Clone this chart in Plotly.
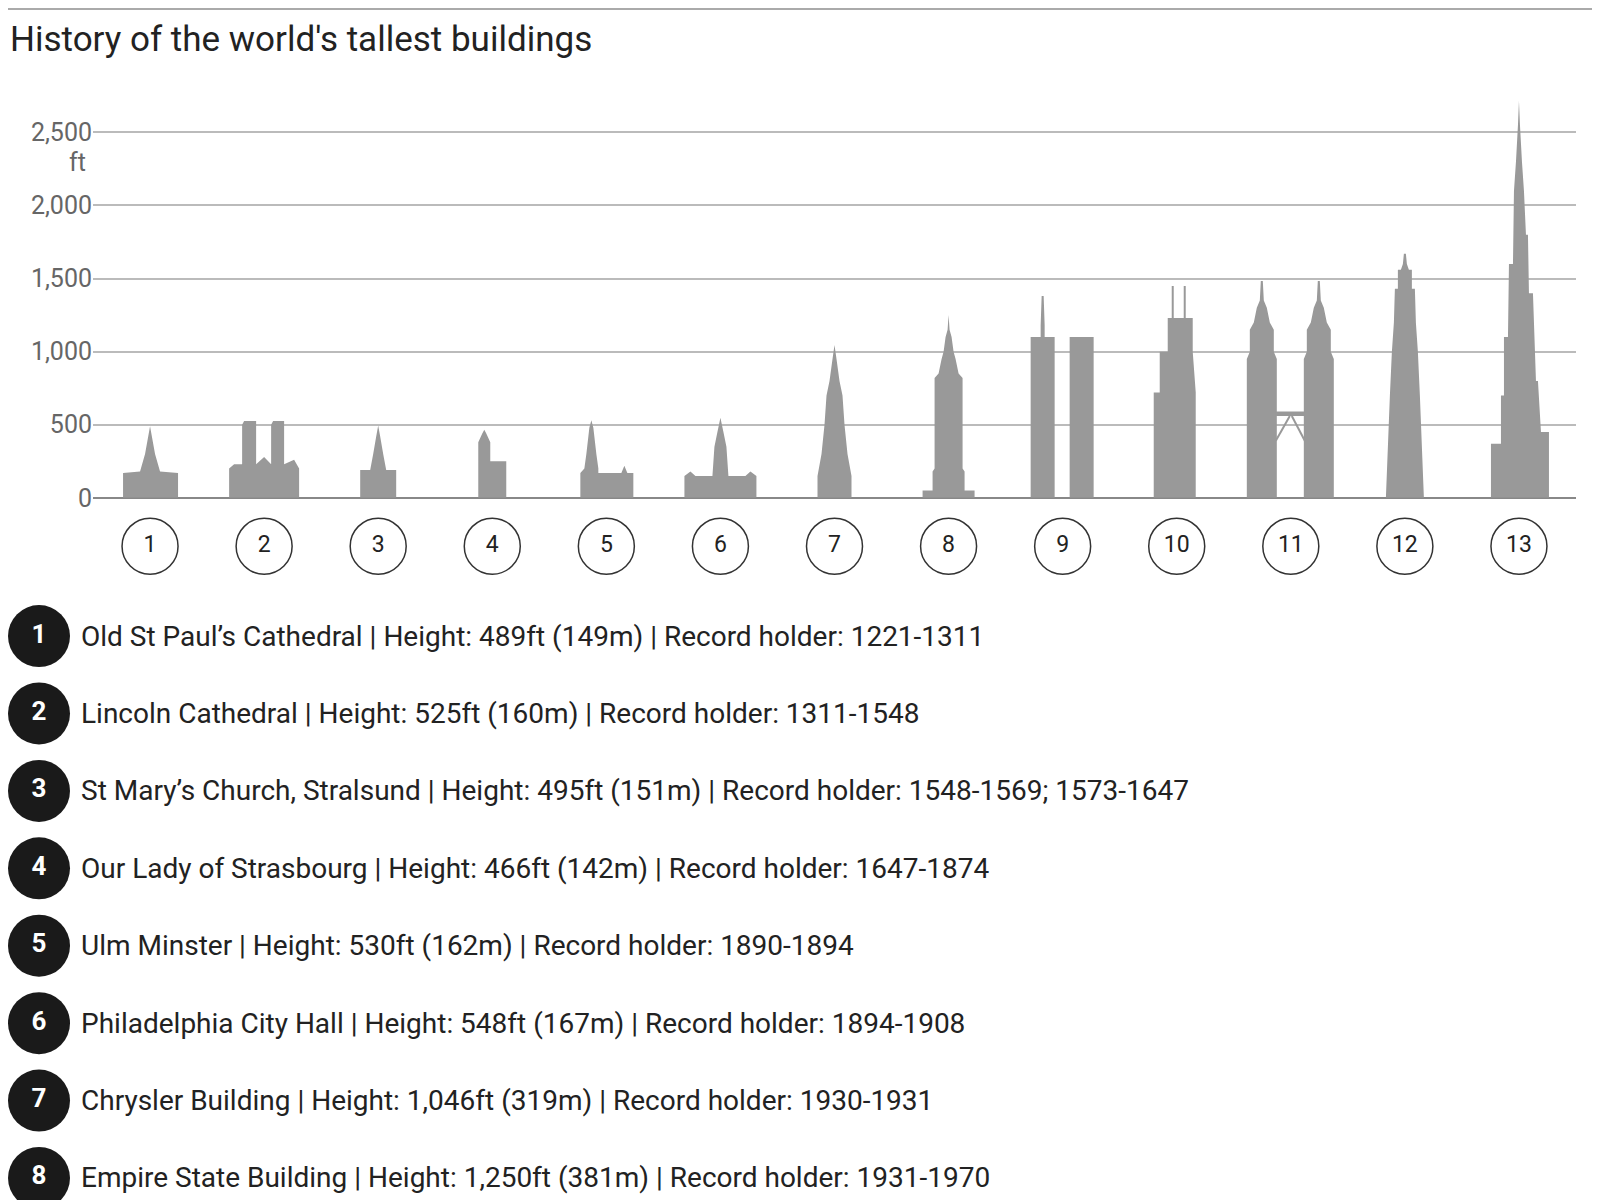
import plotly.graph_objects as go

# building silhouettes: x offset from slot centre (px at chart scale), height (ft)
profiles = {
    1: ([-27, -27, -10, -5, 0, 5, 10, 28, 28], [0, 170, 180, 300, 489, 300, 180, 170, 0]),
    2: ([-35, -35, -30, -22, -22, -20, -8, -8, 0, 7, 7, 9, 20, 20, 30, 35, 35],
        [0, 200, 230, 230, 500, 525, 525, 230, 280, 230, 500, 525, 525, 230, 260, 200, 0]),
    3: ([-18, -18, -8, -5, -2, 0, 2, 5, 8, 18, 18], [0, 190, 190, 300, 420, 495, 420, 300, 190, 190, 0]),
    4: ([-14, -14, -10, -8, -6, -2, -2, 14, 14], [0, 380, 440, 466, 440, 380, 250, 250, 0]),
    5: ([-26, -26, -22, -20, -17, -15, -13, -10, -8, -8, 15, 18, 21, 27, 27],
        [0, 170, 200, 300, 480, 530, 480, 300, 200, 170, 170, 220, 170, 170, 0]),
    6: ([-36, -36, -30, -25, -8, -6, -3, 0, 3, 6, 8, 25, 30, 36, 36],
        [0, 150, 180, 150, 150, 350, 450, 548, 450, 350, 150, 150, 180, 150, 0]),
    7: ([-17, -17, -13, -10, -8, -5, -2, 0, 2, 5, 8, 10, 13, 17, 17],
        [0, 150, 300, 500, 700, 800, 950, 1046, 950, 800, 700, 500, 300, 150, 0]),
    8: ([-26, -26, -16, -16, -14, -14, -10, -7, -5, -3, -1, 0, 1, 3, 5, 7, 10, 14, 14, 16, 16, 26, 26],
        [0, 50, 50, 180, 200, 820, 850, 950, 1000, 1100, 1150, 1250, 1150, 1100, 1000, 950, 850, 820, 200, 180, 50, 50, 0]),
    9: ([-32, -32, -22, -22, -21, -19, -18, -18, -8, -8, None, 7, 7, 31, 31],
        [0, 1100, 1100, 1180, 1380, 1380, 1180, 1100, 1100, 0, None, 0, 1100, 1100, 0]),
    10: ([-23, -23, -17, -17, -9, -9, -5, -5, -3, -3, 7, 7, 9, 9, 16, 16, 19, 19],
         [0, 720, 720, 1000, 1000, 1230, 1230, 1450, 1450, 1230, 1230, 1450, 1450, 1230, 1230, 1000, 720, 0]),
    12: ([-19, -15, -13, -11, -10, -7, -7, -4, -2, -1, 1, 2, 4, 7, 7, 10, 11, 13, 15, 19],
         [0, 700, 1000, 1200, 1430, 1430, 1560, 1560, 1600, 1670, 1670, 1600, 1560, 1560, 1430, 1430, 1200, 1000, 700, 0]),
    13: ([-28, -28, -18, -18, -15, -15, -11, -10, -6, -5, -3, -1, 0, 1, 3, 5, 7, 9, 10, 14, 17, 19, 22, 30, 30],
         [0, 370, 370, 700, 700, 1100, 1100, 1600, 1600, 2100, 2300, 2550, 2717, 2550, 2300, 2100, 1800, 1800,
          1400, 1400, 800, 800, 450, 450, 0]),
}
# Petronas twin towers
tower_dx = [-15, -15, -12, -12, -8, -5, -2, -1, 1, 2, 5, 8, 12, 12, 15, 15]
tower_h = [0, 950, 1000, 1150, 1200, 1300, 1350, 1483, 1483, 1350, 1300, 1200, 1150, 1000, 950, 0]
petronas_centres = [-29, 28]
bridge_dx = [-15, 14, 14, -15]
bridge_h = [560, 560, 590, 590]
legs_dx = [-15, -1, 1, 14]
legs_h = [390, 560, 560, 390]

names = ["Old St Paul’s Cathedral", "Lincoln Cathedral", "St Mary’s Church, Stralsund",
         "Our Lady of Strasbourg", "Ulm Minster", "Philadelphia City Hall", "Chrysler Building",
         "Empire State Building"]
heights = ["489ft (149m)", "525ft (160m)", "495ft (151m)", "466ft (142m)", "530ft (162m)",
           "548ft (167m)", "1,046ft (319m)", "1,250ft (381m)"]
records = ["1221-1311", "1311-1548", "1548-1569; 1573-1647", "1647-1874", "1890-1894",
           "1894-1908", "1930-1931", "1931-1970"]

SLOT = 114.08
GREY = "#999999"
FONT = "Roboto"
fig = go.Figure()

def add_shape(xs, ys, mode="none", **kw):
    fig.add_trace(go.Scatter(x=xs, y=ys, mode=mode, fill="toself" if mode == "none" else None,
                             fillcolor=GREY, hoverinfo="skip", showlegend=False, **kw))

for i, (dx, h) in profiles.items():
    add_shape([None if d is None else i + d / SLOT for d in dx], h)
for c in petronas_centres:
    add_shape([11 + (c + d) / SLOT for d in tower_dx], tower_h)
add_shape([11 + d / SLOT for d in bridge_dx], bridge_h)
add_shape([11 + legs_dx[0] / SLOT, 11 + legs_dx[1] / SLOT, None, 11 + legs_dx[2] / SLOT, 11 + legs_dx[3] / SLOT],
          [legs_h[0], legs_h[1], None, legs_h[2], legs_h[3]], mode="lines", line=dict(color=GREY, width=2))

# numbered circles under the buildings
nums = list(range(1, 14))
fig.add_trace(go.Scatter(x=nums, y=[545] * 13, xaxis="x3", yaxis="y2", mode="markers+text",
                         text=[str(n) for n in nums], textposition="middle center",
                         textfont=dict(size=23, color="#222", family=FONT),
                         marker=dict(size=56, color="white", line=dict(color="#333", width=1.5)),
                         cliponaxis=False, showlegend=False, hoverinfo="skip"))

# list below
rows = list(range(1, len(names) + 1))
row_y = [636 + 78.4 * (r - 1) for r in rows]
fig.add_trace(go.Scatter(x=[31] * len(rows), y=row_y, xaxis="x2", yaxis="y2", mode="markers+text",
                         text=[f"<b>{r}</b>" for r in rows], textposition="middle center",
                         textfont=dict(size=26, color="white", family=FONT),
                         marker=dict(size=62, color="#1a1a1a"),
                         cliponaxis=False, showlegend=False, hoverinfo="skip"))
for r, y, n, h, rec in zip(rows, row_y, names, heights, records):
    fig.add_annotation(x=71 / 1600, y=1 - y / 1200, xref="paper", yref="paper", xanchor="left",
                       yanchor="middle", showarrow=False,
                       text=f"{n} | Height: {h} | Record holder: {rec}",
                       font=dict(size=28, color="#222", family=FONT))

fig.add_annotation(x=0, y=1 - 32 / 1200, xref="paper", yref="paper", xanchor="left", yanchor="middle",
                   showarrow=False, text="History of the world's tallest buildings",
                   font=dict(size=35, color="#222", family=FONT))
fig.add_annotation(x=80 / 1600, y=1 - 156 / 1200, xref="paper", yref="paper", xanchor="right",
                   yanchor="middle", showarrow=False, text="ft",
                   font=dict(size=25, color="#666", family=FONT))
fig.add_shape(type="line", xref="paper", yref="paper", x0=0, x1=1, y0=1 - 1 / 1200, y1=1 - 1 / 1200,
              line=dict(color="#aaa", width=2))

fig.update_layout(
    width=1600, height=1200, margin=dict(l=0, r=0, t=0, b=0),
    paper_bgcolor="white", plot_bgcolor="rgba(0,0,0,0)",
    xaxis=dict(domain=[85 / 1600, 1568 / 1600], range=[0.5, 13.5], visible=False, anchor="y"),
    yaxis=dict(domain=[1 - 496 / 1200, 1 - 89 / 1200], range=[0, 2750], anchor="x",
               tickvals=[0, 500, 1000, 1500, 2000, 2500], ticktext=["0", "500", "1,000", "1,500", "2,000", "2,500"],
               tickfont=dict(size=25, color="#666", family=FONT),
               showgrid=True, gridcolor="#bbbbbb", gridwidth=1.5, zeroline=True, zerolinecolor="#888",
               zerolinewidth=2, ticks=""),
    xaxis2=dict(domain=[0, 1], range=[0, 1600], visible=False, anchor="y2"),
    xaxis3=dict(domain=[85 / 1600, 1568 / 1600], range=[0.5, 13.5], visible=False, anchor="y2"),
    yaxis2=dict(domain=[0, 1], range=[1200, 0], visible=False, anchor="x2"),
)

fig.write_html("out.html")
